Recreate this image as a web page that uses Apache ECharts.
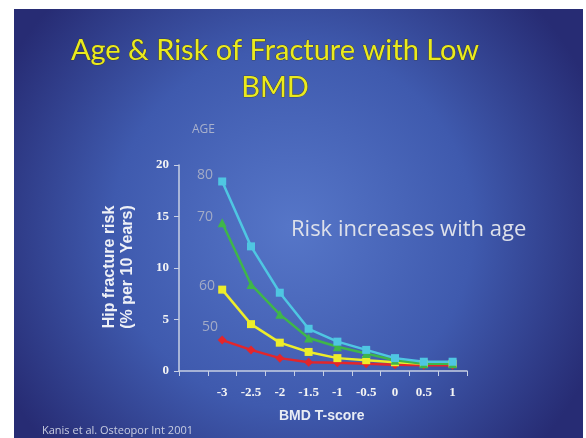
<!DOCTYPE html>
<html><head><meta charset="utf-8">
<script src="https://cdn.jsdelivr.net/npm/echarts@6/dist/echarts.min.js"></script>
<style>html,body{margin:0;padding:0;background:#fff}#c{width:586px;height:438px}</style>
</head><body><div id="c"></div>
<script>
const categories = ['', '-3', '-2.5', '-2', '-1.5', '-1', '-0.5', '0', '0.5', '1'];
const age80 = [null, 18.4, 12.1, 7.6, 4.1, 2.85, 2.05, 1.25, 0.9, 0.9];
const age70 = [null, 14.4, 8.4, 5.5, 3.2, 2.35, 1.7, 1.05, 0.7, 0.7];
const age60 = [null, 7.9, 4.55, 2.75, 1.85, 1.25, 1.05, 0.85, 0.7, 0.7];
const age50 = [null, 3.0, 2.05, 1.25, 0.85, 0.8, 0.7, 0.6, 0.55, 0.55];
const yTicks = [0, 5, 10, 15, 20];

const chart = echarts.init(document.getElementById('c'), null, {renderer: 'canvas'});
const serifTick = {color: '#f4f4f4', fontFamily: 'Liberation Serif', fontWeight: 'bold', fontSize: 13};
function line(name, data, color, symbol, size) {
  return {name, type: 'line', data, symbol, symbolSize: size, showSymbol: true,
    lineStyle: {color, width: 2.5}, itemStyle: {color}, connectNulls: false, z: 3};
}
chart.setOption({
  backgroundColor: {type: 'radial', x: 0.5, y: 0.52, r: 0.75, colorStops: [
    {offset: 0, color: '#5676c8'}, {offset: 0.55, color: '#3f5aae'}, {offset: 1, color: '#272c74'}]},
  animation: false,
  grid: {left: 179, top: 165, right: 119, bottom: 67, containLabel: false},
  xAxis: {type: 'category', data: categories, boundaryGap: true,
    axisLine: {lineStyle: {color: '#c8d0e4', width: 1.5}},
    axisTick: {show: true, length: 5, lineStyle: {color: '#c8d0e4'}},
    axisLabel: Object.assign({margin: 15}, serifTick),
    splitLine: {show: false}},
  yAxis: {type: 'value', min: yTicks[0], max: yTicks[yTicks.length-1], interval: 5,
    axisLine: {show: true, lineStyle: {color: '#c8d0e4', width: 1.5}},
    axisTick: {show: true, length: 5, lineStyle: {color: '#c8d0e4'}},
    axisLabel: Object.assign({margin: 10}, serifTick),
    splitLine: {show: false}},
  series: [
    line('50', age50, '#e3262b', 'diamond', 9),
    line('60', age60, '#eded2a', 'rect', 8),
    line('70', age70, '#3fb64a', 'triangle', 9),
    line('80', age80, '#4fc6e2', 'rect', 8)
  ],
  graphic: [
    {type: 'rect', left: 0, top: 0, shape: {width: 14, height: 438}, style: {fill: '#ffffff'}, z: 10},
    {type: 'rect', left: 0, top: 0, shape: {width: 586, height: 9}, style: {fill: '#ffffff'}, z: 10},
    {type: 'rect', left: 583, top: 0, shape: {width: 3, height: 438}, style: {fill: '#ffffff'}, z: 10},
    {type: 'text', x: 275, y: 36, style: {text: 'Age & Risk of Fracture with Low', align: 'center', fill: '#eaea1e', font: '29px Lato', stroke: '#3a3a20', lineWidth: 0.7}},
    {type: 'text', x: 275, y: 73, style: {text: 'BMD', align: 'center', fill: '#eaea1e', font: '29px Lato', stroke: '#3a3a20', lineWidth: 0.7}},
    {type: 'text', x: 192, y: 124, style: {text: 'AGE', fill: '#a9b1cc', font: '12px "Open Sans"'}},
    {type: 'text', x: 197, y: 168, style: {text: '80', fill: '#a3abc6', font: '14px "Open Sans"'}},
    {type: 'text', x: 197, y: 210, style: {text: '70', fill: '#a3abc6', font: '14px "Open Sans"'}},
    {type: 'text', x: 199, y: 279, style: {text: '60', fill: '#a3abc6', font: '14px "Open Sans"'}},
    {type: 'text', x: 202, y: 320, style: {text: '50', fill: '#a3abc6', font: '14px "Open Sans"'}},
    {type: 'text', x: 291, y: 219, style: {text: 'Risk increases with age', fill: '#dde0ea', font: '22px "Open Sans"'}},
    {type: 'text', x: 279, y: 409, style: {text: 'BMD T-score', fill: '#e8ecf4', font: 'bold 14px "Liberation Sans"'}},
    {type: 'text', x: 42, y: 425, style: {text: 'Kanis et al. Osteopor Int 2001', fill: '#c8cde0', font: '11px "Open Sans"'}},
    {type: 'text', x: 119, y: 267, rotation: Math.PI/2, style: {text: 'Hip fracture risk\n(% per 10 Years)', fill: '#eef0f6', font: 'bold 16px "Liberation Sans"', align: 'center', verticalAlign: 'middle', lineHeight: 18}}
  ]
});
</script></body></html>
